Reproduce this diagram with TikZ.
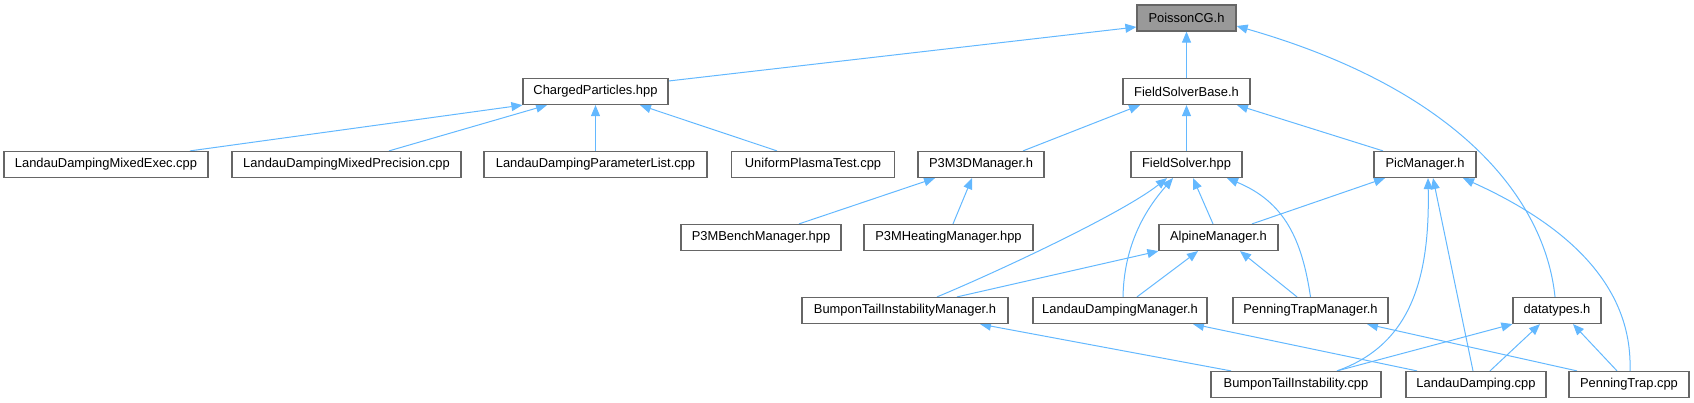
\documentclass[tikz,border=0pt]{standalone}
\usepackage{fontspec}
\setmainfont{Liberation Sans}
\usetikzlibrary{arrows.meta, backgrounds}
\definecolor{edgeblue}{HTML}{63B8FF}
\definecolor{nodegrey}{HTML}{666666}
\definecolor{rootfill}{HTML}{999999}

\begin{document}
\begin{tikzpicture}[
  x=1pt, y=-1pt,
  box/.style={draw=nodegrey, line width=1.2pt, fill=white, align=center, inner sep=0pt, minimum height=26pt, font=\fontsize{12.9}{15}\selectfont},
  rootbox/.style={box, fill=rootfill},
  arrow/.style={-{Triangle[length=11pt, width=9pt]}, edgeblue, line width=1pt}
]
\useasboundingbox (0,0) rectangle (1694,403);
\node[rootbox, minimum width=99pt] (pcg) at (1186.5,18) {PoissonCG.h};
\node[box, minimum width=145pt] (cp) at (595.5,91.5) {ChargedParticles.hpp};
\node[box, minimum width=127pt] (fsb) at (1186.5,91.5) {FieldSolverBase.h};
\node[box, minimum width=204pt] (ldmexec) at (106,164.5) {LandauDampingMixedExec.cpp};
\node[box, minimum width=229pt] (ldmprec) at (346.5,164.5) {LandauDampingMixedPrecision.cpp};
\node[box, minimum width=223pt] (ldparam) at (595.5,164.5) {LandauDampingParameterList.cpp};
\node[box, minimum width=163pt] (upt) at (813,164.5) {UniformPlasmaTest.cpp};
\node[box, minimum width=126pt] (p3m3d) at (981,164.5) {P3M3DManager.h};
\node[box, minimum width=111pt] (fs) at (1186.5,164.5) {FieldSolver.hpp};
\node[box, minimum width=102pt] (pic) at (1425,164.5) {PicManager.h};
\node[box, minimum width=160pt] (bench) at (761,237.5) {P3MBenchManager.hpp};
\node[box, minimum width=169pt] (heat) at (948.5,237.5) {P3MHeatingManager.hpp};
\node[box, minimum width=119pt] (alpine) at (1218.5,237.5) {AlpineManager.h};
\node[box, minimum width=206pt] (btim) at (905,310.5) {BumponTailInstabilityManager.h};
\node[box, minimum width=174pt] (ldm) at (1120,310.5) {LandauDampingManager.h};
\node[box, minimum width=155pt] (ptm) at (1310.5,310.5) {PenningTrapManager.h};
\node[box, minimum width=88pt] (dt) at (1557,310.5) {datatypes.h};
\node[box, minimum width=170pt] (bti) at (1296,384.5) {BumponTailInstability.cpp};
\node[box, minimum width=140pt] (ld) at (1476,384.5) {LandauDamping.cpp};
\node[box, minimum width=120pt] (pt) at (1629,384.5) {PenningTrap.cpp};
\begin{scope}[on background layer]
\draw[arrow] ([yshift=10.5pt]cp.east) -- ([yshift=-9pt]pcg.west);
\draw[arrow] (fsb) -- (pcg);
\draw[arrow] ([xshift=-2pt]dt.north) .. controls (1545,200) and (1460,90) .. ([yshift=-8pt]pcg.east);
\draw[arrow] ([xshift=84pt]ldmexec.north) -- (cp.south west);
\draw[arrow] ([xshift=42.5pt]ldmprec.north) -- ([xshift=-48.5pt]cp.south);
\draw[arrow] (ldparam) -- (cp);
\draw[arrow] ([xshift=-36pt]upt.north) -- ([xshift=44.5pt]cp.south);
\draw[arrow] ([xshift=42pt]p3m3d.north) -- ([xshift=-46.5pt]fsb.south);
\draw[arrow] (fs) -- (fsb);
\draw[arrow] ([xshift=-42pt]pic.north) -- ([xshift=50.5pt]fsb.south);
\draw[arrow] ([xshift=38pt]bench.north) -- ([xshift=-46pt]p3m3d.south);
\draw[arrow] ([xshift=4.5pt]heat.north) -- ([xshift=-9pt]p3m3d.south);
\draw[arrow] ([xshift=32pt]btim.north) .. controls (990,275) and (1120,215) .. ([xshift=-19.5pt]fs.south);
\draw[arrow] ([xshift=3pt]ldm.north) .. controls (1124,245) and (1145,210) .. ([xshift=-13.5pt]fs.south);
\draw[arrow] ([xshift=-5.5pt]alpine.north) -- ([xshift=6.5pt]fs.south);
\draw[arrow] (ptm.north) .. controls (1302,240) and (1285,202) .. ([xshift=40.5pt]fs.south);
\draw[arrow] ([xshift=33.5pt]alpine.north) -- ([xshift=-40pt]pic.south);
\draw[arrow] ([xshift=41pt]bti.north) .. controls (1410,345) and (1430,280) .. ([xshift=3pt]pic.south);
\draw[arrow] ([xshift=-3pt]ld.north) -- ([xshift=8pt]pic.south);
\draw[arrow] ([xshift=1pt]pt.north) .. controls (1632,310) and (1600,240) .. ([xshift=38pt]pic.south);
\draw[arrow] ([xshift=52pt]btim.north) -- (alpine.south west);
\draw[arrow] ([xshift=17pt]ldm.north) -- ([xshift=-20.5pt]alpine.south);
\draw[arrow] ([xshift=-13.5pt]ptm.north) -- ([xshift=21.5pt]alpine.south);
\draw[arrow] ([xshift=-65pt]bti.north) -- ([xshift=75pt]btim.south);
\draw[arrow] ([xshift=-59pt]ld.north) -- ([xshift=73pt]ldm.south);
\draw[arrow] ([xshift=-52pt]pt.north) -- ([xshift=56.5pt]ptm.south);
\draw[arrow] ([xshift=41pt]bti.north) -- (dt.south west);
\draw[arrow] ([xshift=14pt]ld.north) -- ([xshift=-17pt]dt.south);
\draw[arrow] ([xshift=-12pt]pt.north) -- ([xshift=16pt]dt.south);
\end{scope}
\end{tikzpicture}
\end{document}
